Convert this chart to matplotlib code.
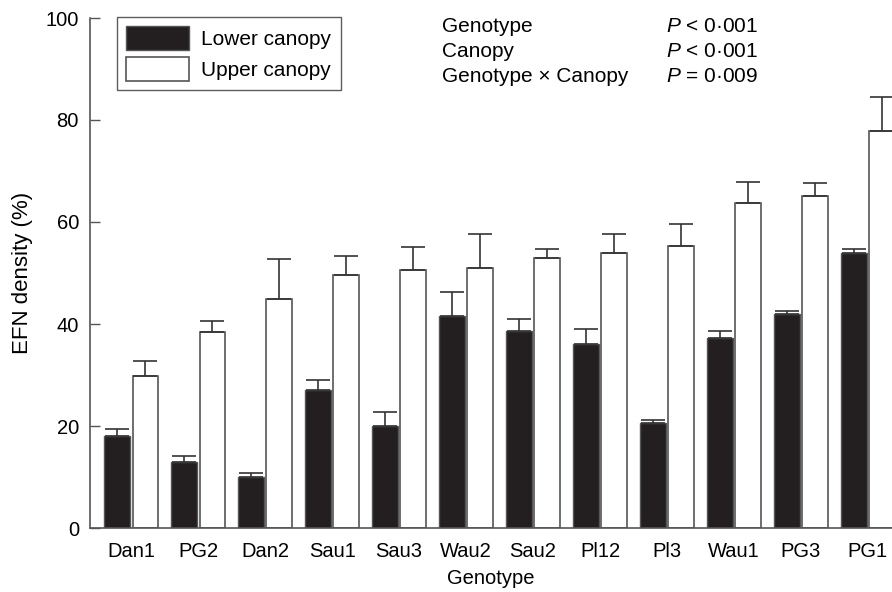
import matplotlib
matplotlib.use("Agg")
import matplotlib.pyplot as plt
import numpy as np

plt.rcParams["font.family"] = ["Liberation Sans", "DejaVu Sans"]
plt.rcParams["mathtext.fontset"] = "custom"
plt.rcParams["mathtext.it"] = "Liberation Sans:italic"
plt.rcParams["mathtext.rm"] = "Liberation Sans"

genotypes = ["Dan1", "PG2", "Dan2", "Sau1", "Sau3", "Wau2", "Sau2", "Pl12", "Pl3", "Wau1", "PG3", "PG1"]
lower = [18.0, 13.0, 10.0, 27.0, 20.0, 41.6, 38.7, 36.1, 20.6, 37.3, 42.0, 53.9]
lower_se = [1.5, 1.1, 0.8, 2.0, 2.7, 4.6, 2.2, 2.9, 0.6, 1.3, 0.6, 0.9]
upper = [29.9, 38.5, 44.9, 49.6, 50.5, 51.0, 52.9, 54.0, 55.2, 63.7, 65.0, 77.9]
upper_se = [2.9, 2.1, 7.9, 3.8, 4.6, 6.6, 1.9, 3.6, 4.5, 4.1, 2.7, 6.7]
stats_terms = ["Genotype", "Canopy", "Genotype \u00d7 Canopy"]
stats_p = ["$P$ < 0\u00b7001", "$P$ < 0\u00b7001", "$P$ = 0\u00b7009"]

x = np.arange(len(genotypes))
w = 0.38
off = 0.21
edge = "#555555"
fs = 14.5

fig = plt.figure(figsize=(8.92, 5.92), dpi=100)
ax = fig.add_axes([90 / 892, 64 / 592, 802 / 892, 510 / 592])

ekw = dict(ecolor="#333333", elinewidth=1.2, capsize=8.5, capthick=1.2)
ax.bar(x - off, lower, w, color="#231f20", edgecolor=edge, linewidth=1.0,
       yerr=[np.zeros(len(x)), lower_se], error_kw=ekw, label="Lower canopy")
ax.bar(x + off, upper, w, color="white", edgecolor=edge, linewidth=1.2,
       yerr=[np.zeros(len(x)), upper_se], error_kw=ekw, label="Upper canopy")

ax.set_xlim(-0.615, 11.36)
ax.set_ylim(0, 100)
ax.set_yticks([0, 20, 40, 60, 80, 100])
ax.set_xticks(x, genotypes)
ax.tick_params(axis="y", direction="in", length=7, width=1, color=edge, labelsize=fs, pad=8)
ax.tick_params(axis="x", length=0, labelsize=fs, pad=10)
for s in ["top", "right"]:
    ax.spines[s].set_visible(False)
for s in ["left", "bottom"]:
    ax.spines[s].set_color(edge)
    ax.spines[s].set_linewidth(1.2)
ax.set_xlabel("Genotype", fontsize=fs, labelpad=6)
ax.set_ylabel("EFN density (%)", fontsize=16, labelpad=9)

leg = ax.legend(loc="upper left", bbox_to_anchor=(27 / 802, 1 + 1 / 510), fontsize=15,
                handlelength=3.0, handleheight=1.4, frameon=True, fancybox=False,
                edgecolor="#333333", borderpad=0.45, labelspacing=0.3, handletextpad=0.6,
                borderaxespad=0)
leg.get_frame().set_linewidth(1.0)

for i, (t, p) in enumerate(zip(stats_terms, stats_p)):
    yy = 1 - (i * 25 - 1) / 510
    ax.text(0.439, yy, t, transform=ax.transAxes, fontsize=15, va="top", ha="left")
    ax.text(0.718, yy, p, transform=ax.transAxes, fontsize=15, va="top", ha="left")

fig.savefig("out.png", dpi=100)
